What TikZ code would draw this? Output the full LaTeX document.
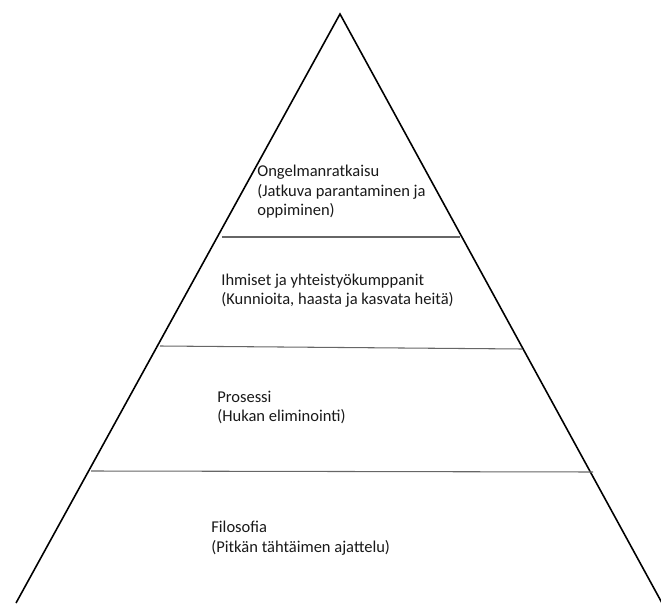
\documentclass[tikz,border=0pt]{standalone}
\usepackage{fontspec}
\setmainfont{Carlito}
\begin{document}
\begin{tikzpicture}[
  lbl/.style={anchor=base west, inner sep=0pt, font=\fontsize{9.4}{11}\selectfont, text=black!90},
  side/.style={line width=0.9pt, black},
  tier/.style={line width=0.6pt, black!60}]
\useasboundingbox (0, 0) rectangle (13.22, 12.06);
\coordinate (top) at (6.80, 11.78);
\coordinate (bl) at (0.32, 0.0);
\coordinate (br) at (13.24, 0.0);
\draw [side] (bl) -- (top) -- (br);
\draw [tier] (4.44, 7.32) -- (9.20, 7.32);
\draw [tier] (3.20, 5.14) -- (10.44, 5.08);
\draw [tier] (1.82, 2.64) -- (11.86, 2.62);
\node [lbl] (o1) at (5.14, 8.52) {Ongelmanratkaisu};
\node [lbl] (o2) at (5.14, 8.12) {(Jatkuva parantaminen ja};
\node [lbl] (o3) at (5.14, 7.74) {oppiminen)};
\node [lbl] (i1) at (4.42, 6.34) {Ihmiset ja yhteistyökumppanit};
\node [lbl] (i2) at (4.42, 5.96) {(Kunnioita, haasta ja kasvata heitä)};
\node [lbl] (p1) at (4.34, 4.02) {Prosessi};
\node [lbl] (p2) at (4.34, 3.64) {(Hukan eliminointi)};
\node [lbl] (f1) at (4.22, 1.42) {Filosofia};
\node [lbl] (f2) at (4.22, 1.02) {(Pitkän tähtäimen ajattelu)};
\end{tikzpicture}
\end{document}
